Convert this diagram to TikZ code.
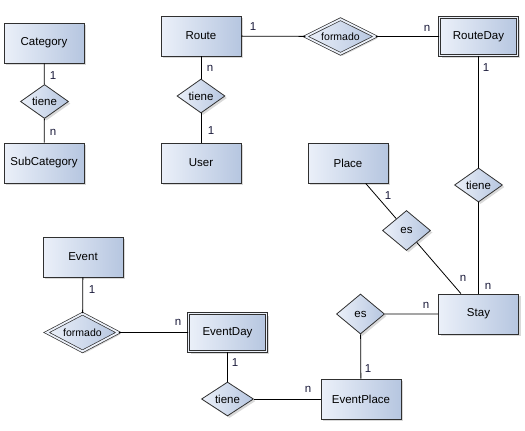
\documentclass[tikz,border=0pt]{standalone}
\usepackage{fontspec}
\setmainfont{Liberation Sans}
\usetikzlibrary{shapes.geometric,shadows}
\definecolor{boxl}{HTML}{EBF0F9}
\definecolor{boxr}{HTML}{B6C6E0}
\definecolor{edge}{HTML}{303030}
\definecolor{card}{HTML}{1A1A3A}
\tikzset{
  shad/.style={drop shadow={shadow xshift=2pt,shadow yshift=-2pt,opacity=0.3}},
  grad/.style={left color=boxl, right color=boxr},
  ent/.style={rectangle, draw=edge, line width=0.8pt, grad,
    minimum width=80pt, minimum height=40pt, inner sep=0pt, shad,
    text=black, font=\fontsize{11.5}{13}\selectfont},
  weak/.style={ent, double=boxl, double distance=1.8pt, line width=0.7pt,
    minimum width=78pt, minimum height=38pt},
  rel/.style={diamond, shape aspect=2, draw=edge, line width=0.8pt, grad,
    inner sep=0pt, minimum width=48pt, minimum height=34pt, shad,
    text=black, font=\fontsize{11.5}{13}\selectfont},
  wrel/.style={rel, double=boxl, double distance=1.8pt, line width=0.7pt,
    minimum width=70pt, minimum height=35pt, font=\fontsize{10.5}{12}\selectfont},
  conn/.style={draw=black, line width=0.8pt},
  card/.style={inner sep=0pt, text=card, font=\fontsize{11.5}{13}\selectfont}
}
\begin{document}
\begin{tikzpicture}[x=1pt,y=-1pt]
\useasboundingbox (0,0) rectangle (525,431);
% entities
\node[ent] (cat) at (44,43) {Category};
\node[ent] (sub) at (44,163) {SubCategory};
\node[ent] (route) at (201,36) {Route};
\node[ent] (user) at (201,163) {User};
\node[weak] (rd) at (478.5,36.5) {RouteDay};
\node[ent] (place) at (348,163) {Place};
\node[ent] (stay) at (478.5,314) {Stay};
\node[ent] (event) at (83,257) {Event};
\node[weak] (ed) at (227.5,332.5) {EventDay};
\node[ent] (ep) at (361,399) {EventPlace};
% relations
\node[rel] (t1) at (44.5,101.5) {tiene};
\node[rel] (t2) at (201,96) {tiene};
\node[wrel] (f1) at (340.5,36.5) {formado};
\node[rel] (t3) at (478.5,185) {tiene};
\node[rel, minimum height=40pt] (es1) at (406.5,230.5) {es};
\node[rel, minimum height=40pt] (es2) at (360.5,314) {es};
\node[wrel, minimum width=72pt, minimum height=38pt] (f2) at (82.5,332.5) {formado};
\node[rel, minimum width=52pt] (t4) at (227.5,399) {tiene};
% connectors
\draw[conn] (cat) -- (t1) -- (sub);
\draw[conn] (route) -- (t2) -- (user);
\draw[conn] (route) -- (f1) -- (rd);
\draw[conn] (rd) -- (t3) -- (stay);
\draw[conn] (place) -- (es1) -- (stay);
\draw[conn] (stay) -- (es2) -- (ep);
\draw[conn] (event) -- (f2) -- (ed);
\draw[conn] (ed) -- (t4) -- (ep);
% cardinalities
\node[card] (c1) at (53,76) {1};
\node[card] (c2) at (53,132) {n};
\node[card] (c3) at (210,68) {n};
\node[card] (c4) at (211,131) {1};
\node[card] (c5) at (253,27) {1};
\node[card] (c6) at (427,28) {n};
\node[card] (c7) at (486,68) {1};
\node[card] (c8) at (388,196) {1};
\node[card] (c9) at (463,278) {n};
\node[card] (c10) at (488,286) {n};
\node[card] (c11) at (426,305) {n};
\node[card] (c12) at (368,369) {1};
\node[card] (c13) at (308,389) {n};
\node[card] (c14) at (92,290) {1};
\node[card] (c15) at (178,322) {n};
\node[card] (c16) at (235,363) {1};
\end{tikzpicture}
\end{document}
